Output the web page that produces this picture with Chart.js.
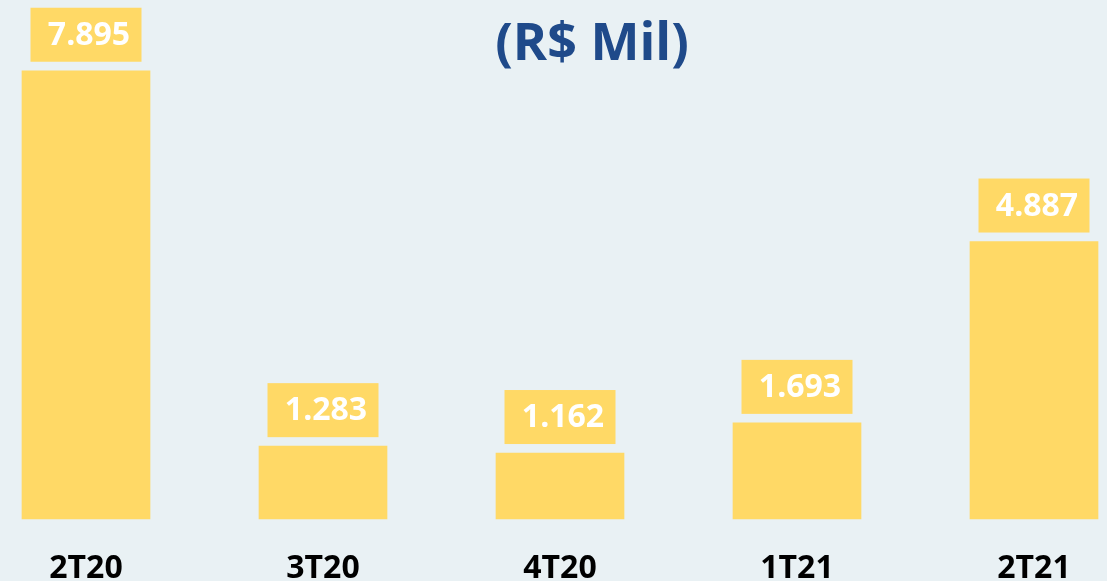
<!DOCTYPE html>
<html>
<head>
<meta charset="utf-8">
<script src="https://cdn.jsdelivr.net/npm/chart.js@4/dist/chart.umd.min.js"></script>
<style>
    html, body { margin: 0; padding: 0; background: #e9f1f4; }
    #wrap { width: 1107px; height: 581px; position: relative; }
</style>
</head>
<body>
<div id="wrap"><canvas id="receita-chart"></canvas></div>
<script>
// Trimestres e valores (R$ Mil)
const quarters = ['2T20', '3T20', '4T20', '1T21', '2T21'];
const values = [7895, 1283, 1162, 1693, 4887];
const valueLabels = ['7.895', '1.283', '1.162', '1.693', '4.887'];

const gold = '#ffd966';

// Title, value boxes above the bars and quarter names under them
const barLabels = {
    id: 'barLabels',
    afterDatasetsDraw(chart) {
        const ctx = chart.ctx;
        const meta = chart.getDatasetMeta(0);
        const xScale = chart.scales.x;
        ctx.save();
        meta.data.forEach((bar, i) => {
            const boxW = 111, boxH = 54;
            const left = bar.x - boxW / 2;
            const top = bar.y - 9 - boxH;
            ctx.fillStyle = gold;
            ctx.fillRect(left, top, boxW, boxH);
            ctx.fillStyle = '#ffffff';
            ctx.font = 'bold 32px "Open Sans"';
            ctx.textAlign = 'center';
            ctx.textBaseline = 'middle';
            ctx.fillText(valueLabels[i], bar.x + 3, top + boxH / 2 + 1);

            ctx.fillStyle = '#000000';
            ctx.textBaseline = 'alphabetic';
            ctx.fillText(quarters[i], xScale.getPixelForValue(i), 578);
        });
        ctx.fillStyle = '#1f4a8a';
        ctx.font = 'bold 52px "Open Sans"';
        ctx.textAlign = 'center';
        ctx.textBaseline = 'alphabetic';
        ctx.fillText('(R$ Mil)', 592, 60);
        ctx.restore();
    }
};

new Chart(document.getElementById('receita-chart'), {
    type: 'bar',
    data: {
        labels: quarters,
        datasets: [{
            label: 'R$ Mil',
            data: values,
            backgroundColor: gold,
            borderWidth: 0,
            barThickness: 128,
            clip: false
        }]
    },
    options: {
        responsive: true,
        maintainAspectRatio: false,
        animation: false,
        layout: {
            padding: { left: 86, right: 73, top: 8, bottom: 62 }
        },
        plugins: {
            legend: { display: false },
            tooltip: { enabled: false }
        },
        scales: {
            x: { display: false, offset: false },
            y: { display: false, min: 0, max: 9000 }
        }
    },
    plugins: [barLabels]
});
</script>
</body>
</html>
